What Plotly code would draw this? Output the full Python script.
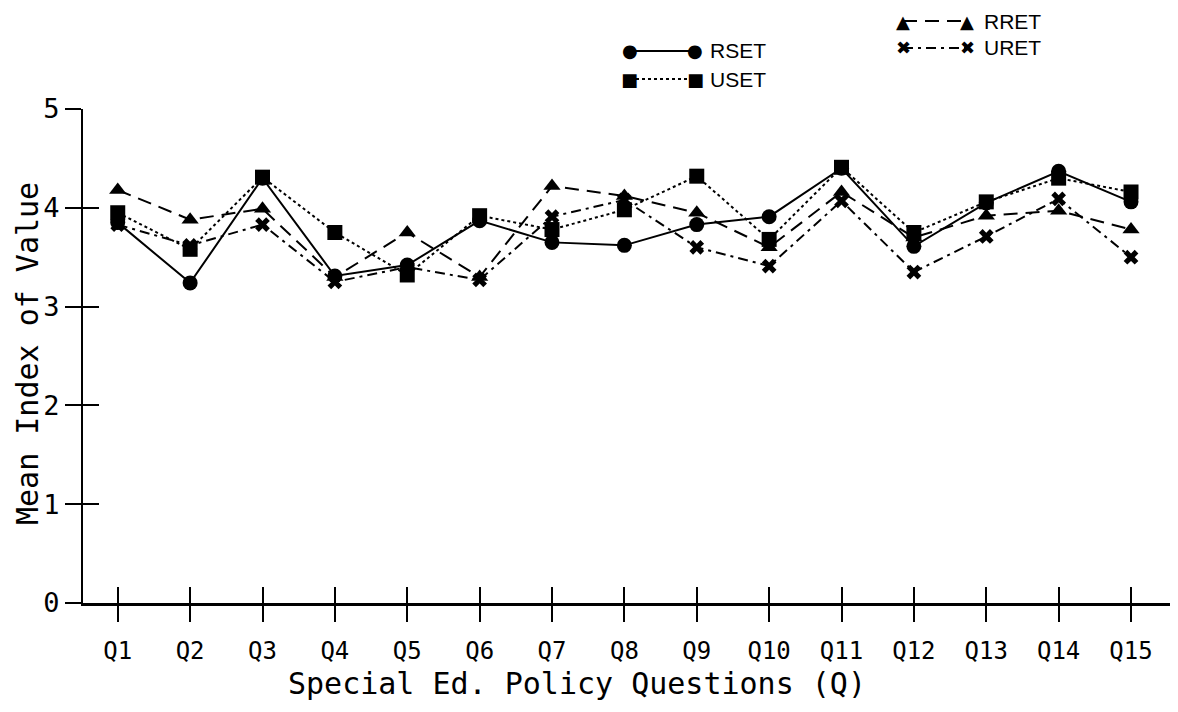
import plotly.graph_objects as go

categories = ["Q1", "Q2", "Q3", "Q4", "Q5", "Q6", "Q7", "Q8", "Q9", "Q10",
              "Q11", "Q12", "Q13", "Q14", "Q15"]
rset = [3.85, 3.24, 4.30, 3.31, 3.42, 3.87, 3.65, 3.62, 3.83, 3.91, 4.40, 3.61, 4.05, 4.37, 4.06]
uset = [3.95, 3.58, 4.31, 3.75, 3.32, 3.92, 3.78, 3.98, 4.32, 3.68, 4.41, 3.75, 4.06, 4.30, 4.16]
rret = [4.18, 3.88, 3.99, 3.30, 3.75, 3.30, 4.22, 4.12, 3.95, 3.60, 4.16, 3.70, 3.92, 3.97, 3.78]
uret = [3.83, 3.62, 3.83, 3.25, 3.40, 3.27, 3.91, 4.08, 3.60, 3.41, 4.07, 3.35, 3.71, 4.09, 3.50]
y_ticks = [0, 1, 2, 3, 4, 5]

series = [
    ("RSET", rset, "circle", "solid", 15),
    ("USET", uset, "square", "dot", 15),
    ("RRET", rret, "triangle-up", "14px,8px", 15),
    ("URET", uret, "x", "10px,5px,3px,5px", 13),
]

idx = list(range(len(categories)))
fig = go.Figure()
for name, vals, sym, dash, msize in series:
    fig.add_trace(go.Scatter(
        x=idx, y=vals, name=name, mode="lines+markers",
        line=dict(color="black", width=2, dash=dash),
        marker=dict(symbol=sym, size=msize, color="black",
                    line=dict(width=0)),
        showlegend=False,
    ))
# invisible trace to activate the overlay axes (for crossing tick marks)
fig.add_trace(go.Scatter(x=idx, y=rset, xaxis="x2", yaxis="y2", mode="markers",
                         marker=dict(opacity=0), hoverinfo="skip", showlegend=False))

mono = "DejaVu Sans Mono"
xr = [-0.48, 14.58]
yr = [0, 5]

# page has an 8px body margin
OFF = 8
W, H = 1170, 704
L, R, T, B = 75, 5, 101, 109
pw, ph = W - L - R, H - T - B

fig.update_layout(
    width=W, height=H,
    margin=dict(l=L, r=R, t=T, b=B),
    paper_bgcolor="white", plot_bgcolor="white",
    font=dict(family=mono, color="black", size=22),
    xaxis=dict(range=xr, tickmode="array", tickvals=idx, ticktext=categories,
               showgrid=False, zeroline=False, showline=True, linewidth=3,
               linecolor="black", ticks="outside", ticklen=16, tickwidth=1.5,
               tickcolor="black", tickfont=dict(family=mono, size=24),
               ticklabelstandoff=8),
    yaxis=dict(range=yr, tickmode="array", tickvals=y_ticks,
               showgrid=False, zeroline=False, showline=True, linewidth=2,
               linecolor="black", ticks="outside", ticklen=16, tickwidth=1.5,
               tickcolor="black", tickfont=dict(family=mono, size=27),
               ticklabelstandoff=0),
    xaxis2=dict(range=xr, overlaying="x", anchor="y2", tickmode="array",
                tickvals=idx, showticklabels=False, showgrid=False,
                zeroline=False, showline=False, ticks="inside", ticklen=16,
                tickwidth=1.5, tickcolor="black"),
    yaxis2=dict(range=yr, overlaying="y", anchor="x2", tickmode="array",
                tickvals=y_ticks[1:], showticklabels=False, showgrid=False,
                zeroline=False, showline=False, ticks="inside", ticklen=16,
                tickwidth=1.5, tickcolor="black"),
)


def px(x):
    return (x - OFF - L) / pw


def py(y):
    return (H - B - (y - OFF)) / ph


# axis titles
fig.add_annotation(text="Special Ed. Policy Questions (Q)", xref="paper", yref="paper",
                   x=px(577), y=py(683), showarrow=False,
                   font=dict(family=mono, size=30), xanchor="center", yanchor="middle")
fig.add_annotation(text="Mean Index of Value", xref="paper", yref="paper",
                   x=px(27), y=py(354), showarrow=False, textangle=-90,
                   font=dict(family=mono, size=30), xanchor="center", yanchor="middle")

# custom legend (line sample with symbols at both ends)
legend_items = [
    ("RSET", "solid", "●", 630, 695, 51, 708),
    ("USET", "dot", "■", 630, 695, 79, 708),
    ("RRET", "14px,8px", "▲", 903, 967, 21, 982),
    ("URET", "10px,5px,3px,5px", "✖", 903, 967, 48, 982),
]
for label, dash, glyph, x0, x1, yy, tx in legend_items:
    fig.add_shape(type="line", xref="paper", yref="paper",
                  x0=px(x0), x1=px(x1), y0=py(yy), y1=py(yy),
                  line=dict(color="black", width=2, dash=dash))
    for xx in (x0, x1):
        fig.add_annotation(text=glyph, xref="paper", yref="paper", x=px(xx), y=py(yy),
                           showarrow=False, xanchor="center", yanchor="middle",
                           font=dict(family="DejaVu Sans", size=18, color="black"))
    fig.add_annotation(text=label, xref="paper", yref="paper", x=px(tx), y=py(yy),
                       showarrow=False, xanchor="left", yanchor="middle",
                       font=dict(family="Liberation Sans", size=21, color="black"))

fig.write_html("out.html")
